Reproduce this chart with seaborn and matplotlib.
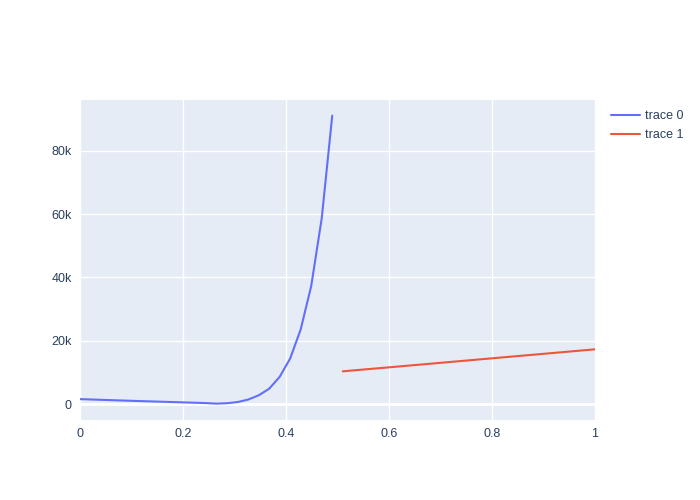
import pandas as pd
import numpy as np
import matplotlib
matplotlib.use("Agg")
import matplotlib.pyplot as plt
import seaborn as sns
from matplotlib.ticker import FuncFormatter
from matplotlib.lines import Line2D

# trace 0, x steps of 1/49
trace0_x = [i / 49 for i in range(25)]
trace0_y = [1550, 1440, 1330, 1220, 1110, 1000, 900, 800, 700, 600,
            500, 400, 290, 120, 250, 630, 1400, 2750, 4830, 8600,
            14400, 23600, 37300, 58700, 91100]

# trace 1 - a straight run on the right half
trace1_x = [25 / 49, 0.6, 0.8, 1.0]
trace1_y = [10330, 11590, 14440, 17280]

df = pd.concat([
    pd.DataFrame({"x": trace0_x, "y": trace0_y, "trace": "trace 0"}),
    pd.DataFrame({"x": trace1_x, "y": trace1_y, "trace": "trace 1"}),
])

sns.set_style("darkgrid", {"axes.facecolor": "#E5ECF6", "grid.color": "white"})
plt.rcParams["font.family"] = ["Liberation Sans", "DejaVu Sans"]

fig = plt.figure(figsize=(7, 5), dpi=100)
ax = fig.add_axes([80 / 700, 1 - 420 / 500, 515 / 700, 320 / 500])

sns.lineplot(data=df, x="x", y="y", hue="trace", palette=["#636EFA", "#EF553B"],
             linewidth=1.5, ax=ax, legend=False, zorder=3)

ax.set_xlim(0, 1)
ax.set_ylim(-5050, 96050)
ax.set_xticks([0, 0.2, 0.4, 0.6, 0.8, 1])
ax.set_xticklabels(["0", "0.2", "0.4", "0.6", "0.8", "1"])
ax.set_yticks([0, 20000, 40000, 60000, 80000])
ax.yaxis.set_major_formatter(FuncFormatter(lambda v, p: "0" if v == 0 else f"{int(v / 1000)}k"))
ax.grid(True, color="white", linewidth=1)
ax.axhline(0, color="white", linewidth=2, zorder=1)
ax.tick_params(colors="#2a3f5f", labelsize=9, length=0, pad=6)
ax.set_xlabel("")
ax.set_ylabel("")
for s in ax.spines.values():
    s.set_visible(False)

# legend on the right, outside the plot
handles = [Line2D([], [], color="#636EFA", lw=1.5), Line2D([], [], color="#EF553B", lw=1.5)]
fig.legend(handles, ["trace 0", "trace 1"], loc="upper left",
           bbox_to_anchor=(600 / 700, 1 - 99 / 500), frameon=False,
           fontsize=9, labelcolor="#2a3f5f", handlelength=2.3,
           handletextpad=0.4, labelspacing=0.55)

fig.savefig("out.png", dpi=100)
